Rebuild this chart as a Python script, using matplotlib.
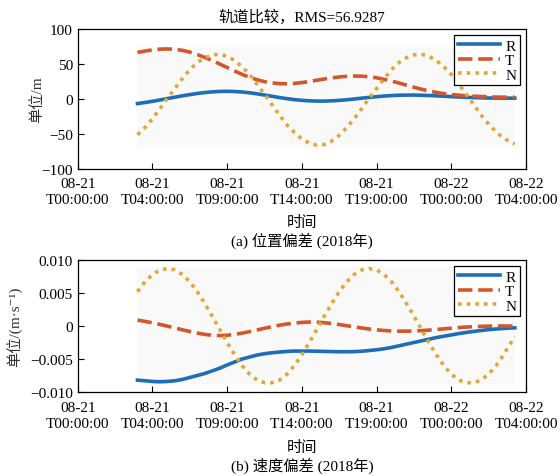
import numpy as np
import matplotlib
matplotlib.use("Agg")
import matplotlib.pyplot as plt

plt.rcParams['font.family'] = ['Liberation Serif', 'Noto Sans CJK SC', 'DejaVu Serif']
plt.rcParams['font.size'] = 11
plt.rcParams['axes.unicode_minus'] = True

# time axis, in tick-interval units (0 = 08-21 T00:00:00 ... 6 = 08-22 T04:00:00)
t = [0.8, 0.9, 1.0, 1.1, 1.2, 1.3, 1.4, 1.5, 1.6, 1.7, 1.8, 1.9,
     2.0, 2.1, 2.2, 2.3, 2.4, 2.5, 2.6, 2.7, 2.8, 2.9,
     3.0, 3.1, 3.2, 3.3, 3.4, 3.5, 3.6, 3.7, 3.8, 3.9,
     4.0, 4.1, 4.2, 4.3, 4.4, 4.5, 4.6, 4.7, 4.8, 4.9,
     5.0, 5.1, 5.2, 5.3, 5.4, 5.5, 5.6, 5.7, 5.8, 5.85]

xtick_labels = ["08-21\nT00:00:00", "08-21\nT04:00:00", "08-21\nT09:00:00",
                "08-21\nT14:00:00", "08-21\nT19:00:00", "08-22\nT00:00:00",
                "08-22\nT04:00:00"]

# position error (m)
pos_R = [-6.5, -5.0, -3.3, -1.4, 0.6, 2.6, 4.5, 6.3, 7.9, 9.2, 10.2, 10.8,
         11.0, 10.7, 10.0, 8.9, 7.4, 5.7, 3.9, 2.1, 0.5, -0.9,
         -1.9, -2.6, -3.0, -3.0, -2.6, -2.0, -1.1, 0.0, 1.2, 2.3,
         3.3, 4.2, 4.9, 5.4, 5.6, 5.6, 5.4, 5.0, 4.5, 4.0,
         3.4, 2.9, 2.4, 2.0, 1.7, 1.4, 1.3, 1.2, 1.2, 1.2]
pos_T = [66.5, 68.5, 70.2, 71.2, 71.5, 71.0, 69.5, 67.0, 63.5, 59.5, 55.0, 50.0,
         45.0, 40.0, 35.2, 31.0, 27.5, 24.8, 23.0, 22.0, 21.8, 22.3,
         23.5, 25.0, 26.8, 28.6, 30.2, 31.5, 32.4, 32.8, 32.6, 31.8,
         30.3, 28.2, 25.7, 22.8, 19.8, 16.8, 14.0, 11.5, 9.4, 7.7,
         6.4, 5.4, 4.6, 4.0, 3.5, 3.1, 2.8, 2.6, 2.5, 2.4]
pos_N = [-51, -41, -28, -14, 1, 15, 29, 42, 52, 59, 63, 64,
         61, 55, 46, 35, 21, 7, -8, -23, -37, -48,
         -57, -63, -66, -65, -60, -52, -41, -28, -14, 1,
         15, 29, 42, 52, 59, 63, 64, 61, 55, 46,
         35, 21, 7, -8, -23, -36, -47, -56, -62, -64]

# velocity error (1e-3 m/s)
vel_R = [-8.2, -8.3, -8.4, -8.45, -8.4, -8.3, -8.1, -7.8, -7.5, -7.2, -6.8, -6.4,
         -5.9, -5.45, -5.0, -4.7, -4.4, -4.2, -4.05, -3.95, -3.85, -3.8,
         -3.8, -3.8, -3.82, -3.85, -3.88, -3.9, -3.9, -3.88, -3.82, -3.72,
         -3.6, -3.45, -3.25, -3.0, -2.75, -2.5, -2.25, -2.0, -1.75, -1.55,
         -1.35, -1.15, -0.98, -0.82, -0.68, -0.55, -0.45, -0.37, -0.3, -0.28]
vel_T = [0.9, 0.7, 0.48, 0.24, -0.02, -0.3, -0.57, -0.83, -1.07, -1.27, -1.4, -1.45,
         -1.4, -1.27, -1.08, -0.85, -0.6, -0.35, -0.1, 0.12, 0.3, 0.45,
         0.55, 0.6, 0.58, 0.5, 0.38, 0.22, 0.05, -0.13, -0.3, -0.45,
         -0.58, -0.68, -0.75, -0.78, -0.78, -0.75, -0.7, -0.62, -0.53, -0.43,
         -0.33, -0.24, -0.16, -0.1, -0.05, -0.02, 0.0, 0.0, -0.01, -0.02]
vel_N = [5.2, 6.7, 7.8, 8.5, 8.7, 8.5, 7.8, 6.7, 5.2, 3.4, 1.5, -0.5,
         -2.5, -4.35, -6.0, -7.3, -8.2, -8.6, -8.6, -8.2, -7.3, -6.0,
         -4.35, -2.5, -0.5, 1.5, 3.4, 5.2, 6.7, 7.8, 8.5, 8.7,
         8.5, 7.8, 6.7, 5.2, 3.4, 1.5, -0.5, -2.5, -4.35, -6.0,
         -7.3, -8.2, -8.6, -8.6, -8.2, -7.3, -6.0, -4.35, -2.5, -1.6]

vel_R = np.array(vel_R) * 1e-3
vel_T = np.array(vel_T) * 1e-3
vel_N = np.array(vel_N) * 1e-3

colors = ['#1f6db5', '#d4562a', '#e0a83a']
styles = ['-', (0, (4, 1.6)), (0, (1, 1.4))]
names = ['R', 'T', 'N']

fig = plt.figure(figsize=(5.6, 4.77), dpi=100)
ax1 = fig.add_axes([0.1388, 0.6436, 0.8005, 0.2935])
ax2 = fig.add_axes([0.1388, 0.1761, 0.8005, 0.2767])


def draw(ax, series, ylim, yticks, ylabels, margin):
    lo = min(min(s) for s in series) - margin
    hi = max(max(s) for s in series) + margin
    ax.fill_between(t, lo, hi, color='#f9f9f9', lw=0, zorder=0)
    for s, c, ls, n in zip(series, colors, styles, names):
        ax.plot(t, s, color=c, ls=ls, lw=2.6, label=n, dash_capstyle='butt')
    ax.set_xlim(0, 6)
    ax.set_ylim(*ylim)
    ax.set_xticks(range(7))
    ax.set_xticklabels(xtick_labels, linespacing=1.3)
    ax.set_yticks(yticks)
    ax.set_yticklabels(ylabels)
    ax.tick_params(direction='in', length=4, top=False, right=False)
    for sp in ax.spines.values():
        sp.set_linewidth(0.9)
    leg = ax.legend(loc='upper right', handlelength=2.8, handletextpad=0.3,
                    borderpad=0.25, labelspacing=0.05, borderaxespad=0.4,
                    fancybox=False, edgecolor='black', framealpha=1)
    leg.get_frame().set_linewidth(0.9)


draw(ax1, [pos_R, pos_T, pos_N], (-100, 100), [-100, -50, 0, 50, 100],
     ['−100', '−50', '0', '50', '100'], 3)
draw(ax2, [vel_R, vel_T, vel_N], (-0.01, 0.01), [-0.01, -0.005, 0, 0.005, 0.01],
     ['−0.010', '−0.005', '0', '0.005', '0.010'], 0.0002)

ax1.tick_params(axis='x', pad=6)
ax2.tick_params(axis='x', pad=6.5)

ax1.set_title('轨道比较，RMS=56.9287', fontsize=11, pad=6)
ax1.set_ylabel('单位/m', color='#333333')
ax1.yaxis.set_label_coords(-0.075, 0.5)
ax2.set_ylabel('单位/(m·s⁻¹)', color='#333333')
ax2.yaxis.set_label_coords(-0.122, 0.5)

ax1.text(0.5, -0.38, '时间', transform=ax1.transAxes, ha='center', va='center')
ax1.text(0.5, -0.505, '(a) 位置偏差 (2018年)', transform=ax1.transAxes, ha='center', va='center')
ax2.text(0.5, -0.42, '时间', transform=ax2.transAxes, ha='center', va='center')
ax2.text(0.5, -0.555, '(b) 速度偏差 (2018年)', transform=ax2.transAxes, ha='center', va='center')

fig.savefig('out.png', dpi=100)
